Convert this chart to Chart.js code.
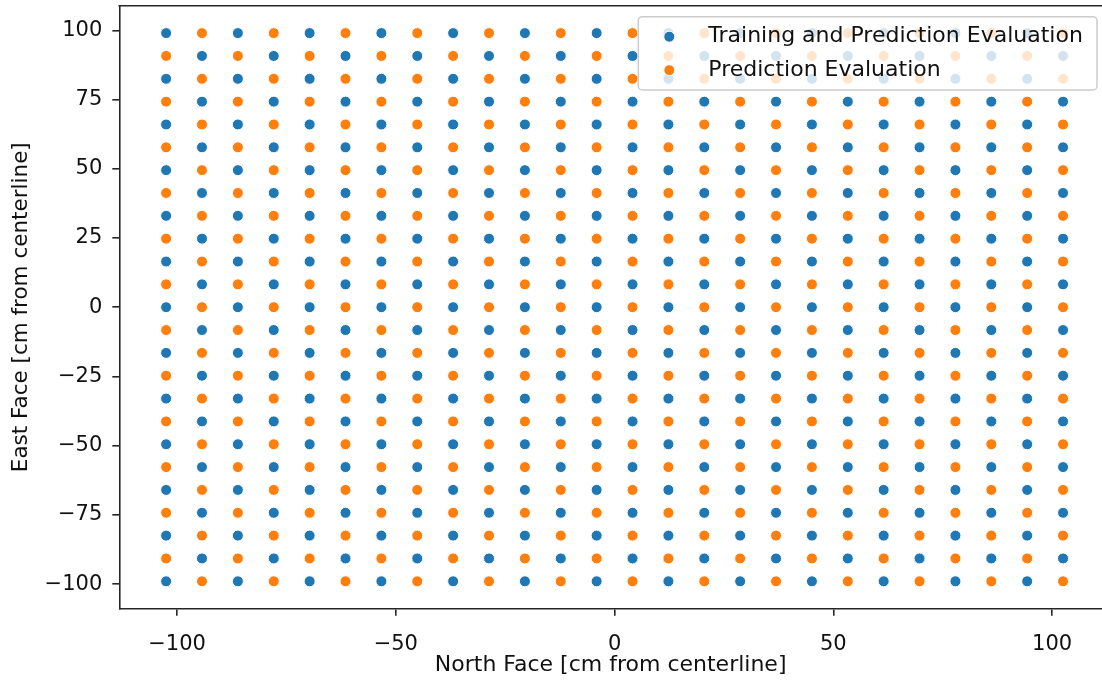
<!DOCTYPE html>
<html>
<head>
<meta charset="utf-8">
<script src="https://cdn.jsdelivr.net/npm/chart.js@4.4.1/dist/chart.umd.min.js"></script>
<style>
  html, body { margin: 0; padding: 0; background: #fff; overflow: hidden; }
  #wrap { width: 1102px; height: 681px; }
</style>
</head>
<body>
<div id="wrap"><canvas id="grid" width="1102" height="681"></canvas></div>
<script>
// Sensor grid positions, cm from the centerline
const northPositions = [-102.5, -94.3, -86.1, -77.9, -69.7, -61.5, -53.3, -45.1, -36.9,
  -28.7, -20.5, -12.3, -4.1, 4.1, 12.3, 20.5, 28.7, 36.9, 45.1, 53.3, 61.5, 69.7,
  77.9, 86.1, 94.3, 102.5];
const eastPositions = [-99, -90.75, -82.5, -74.25, -66, -57.75, -49.5, -41.25, -33,
  -24.75, -16.5, -8.25, 0, 8.25, 16.5, 24.75, 33, 41.25, 49.5, 57.75, 66, 74.25,
  82.5, 90.75, 99];

const seriesNames = ['Training and Prediction Evaluation', 'Prediction Evaluation'];
const seriesColors = ['#1f77b4', '#ff7f0e'];

const xTickValues = [-100, -50, 0, 50, 100];
const xTickLabels = ['\u2212100', '\u221250', '0', '50', '100'];
const yTickValues = [-100, -75, -50, -25, 0, 25, 50, 75, 100];
const yTickLabels = ['\u2212100', '\u221275', '\u221250', '\u221225', '0', '25', '50', '75', '100'];

// Grid cells alternate between the two sets like a checkerboard,
// starting with the training set in the lower-left corner.
const trainingPoints = [];
const predictionPoints = [];
northPositions.forEach((x, i) => {
  eastPositions.forEach((y, j) => {
    ((i + j) % 2 === 0 ? trainingPoints : predictionPoints).push({ x, y });
  });
});

const FONT = 'DejaVu Sans';
const INK = '#111';
const SPINE = '#262626';

// Top spine (the axes frame)
const framePlugin = {
  id: 'frame',
  afterDraw(chart) {
    const { ctx, chartArea: ca } = chart;
    ctx.save();
    ctx.strokeStyle = SPINE;
    ctx.lineWidth = 1.6;
    ctx.beginPath();
    ctx.moveTo(ca.left - 0.8, ca.top);
    ctx.lineTo(ca.right, ca.top);
    ctx.stroke();
    ctx.restore();
  }
};

// Legend box in the upper right of the plot area
const legendPlugin = {
  id: 'cornerLegend',
  afterDraw(chart) {
    const { ctx, chartArea: ca } = chart;
    const right = ca.right - 5, top = ca.top + 11;
    const w = 458.7, h = 73.3, r = 4;
    const left = right - w;
    ctx.save();
    ctx.beginPath();
    ctx.moveTo(left + r, top);
    ctx.lineTo(right - r, top);
    ctx.arcTo(right, top, right, top + r, r);
    ctx.lineTo(right, top + h - r);
    ctx.arcTo(right, top + h, right - r, top + h, r);
    ctx.lineTo(left + r, top + h);
    ctx.arcTo(left, top + h, left, top + h - r, r);
    ctx.lineTo(left, top + r);
    ctx.arcTo(left, top, left + r, top, r);
    ctx.closePath();
    ctx.fillStyle = 'rgba(255,255,255,0.8)';
    ctx.fill();
    ctx.strokeStyle = '#cccccc';
    ctx.lineWidth = 1.5;
    ctx.stroke();

    const rows = [top + 20, top + 53.5];
    chart.data.datasets.forEach((ds, k) => {
      const cy = rows[k];
      ctx.beginPath();
      ctx.arc(left + 31, cy, ds.pointRadius, 0, Math.PI * 2);
      ctx.fillStyle = ds.backgroundColor;
      ctx.fill();
      ctx.strokeStyle = '#fff';
      ctx.lineWidth = ds.borderWidth;
      ctx.stroke();
      ctx.fillStyle = INK;
      ctx.font = '22px "' + FONT + '"';
      ctx.textAlign = 'left';
      ctx.textBaseline = 'middle';
      ctx.fillText(ds.label, left + 70, cy);
    });
    ctx.restore();
  }
};

const tickGrid = {
  display: true, drawOnChartArea: false, drawTicks: true,
  tickLength: 7, tickWidth: 1.6, tickColor: SPINE, lineWidth: 1.6, color: SPINE
};
const axisBorder = { display: true, color: SPINE, width: 1.6 };
const tickFont = { family: FONT, size: 21 };

new Chart(document.getElementById('grid'), {
  type: 'scatter',
  data: {
    datasets: [
      { label: seriesNames[0], data: trainingPoints, backgroundColor: seriesColors[0],
        borderColor: '#ffffff', borderWidth: 1, pointRadius: 5.5, pointHoverRadius: 5.5 },
      { label: seriesNames[1], data: predictionPoints, backgroundColor: seriesColors[1],
        borderColor: '#ffffff', borderWidth: 1, pointRadius: 5.5, pointHoverRadius: 5.5 }
    ]
  },
  options: {
    responsive: false,
    animation: false,
    events: [],
    layout: { autoPadding: false, padding: { top: 5.7, left: 0, right: 0, bottom: 0 } },
    plugins: { legend: { display: false }, tooltip: { enabled: false } },
    scales: {
      x: {
        type: 'linear', position: 'bottom', min: -113.2, max: 111.4,
        afterBuildTicks: s => { s.ticks = xTickValues.map(v => ({ value: v })); },
        afterFit: s => { s.height = 72.3; s.paddingLeft = 0; s.paddingRight = 0; },
        ticks: { font: tickFont, color: INK, padding: 16, maxRotation: 0, autoSkip: false,
                 callback: (v, i) => xTickLabels[i] },
        grid: tickGrid,
        border: axisBorder,
        title: { display: true, text: 'North Face [cm from centerline]',
                 font: { family: FONT, size: 22, lineHeight: 1.2 },
                 color: INK, padding: { top: 0, bottom: 3 } }
      },
      y: {
        type: 'linear', position: 'left', min: -108.9, max: 108.9,
        afterBuildTicks: s => { s.ticks = yTickValues.map(v => ({ value: v })); },
        afterFit: s => { s.width = 119.3; s.paddingTop = 0; s.paddingBottom = 0; },
        ticks: { font: tickFont, color: INK, padding: 10, autoSkip: false,
                 callback: (v, i) => yTickLabels[i] },
        grid: tickGrid,
        border: axisBorder,
        title: { display: true, text: 'East Face [cm from centerline]',
                 font: { family: FONT, size: 21.5, lineHeight: 1.2 },
                 color: INK, padding: { top: 8.1, bottom: 0 } }
      }
    }
  },
  plugins: [framePlugin, legendPlugin]
});
</script>
</body>
</html>
